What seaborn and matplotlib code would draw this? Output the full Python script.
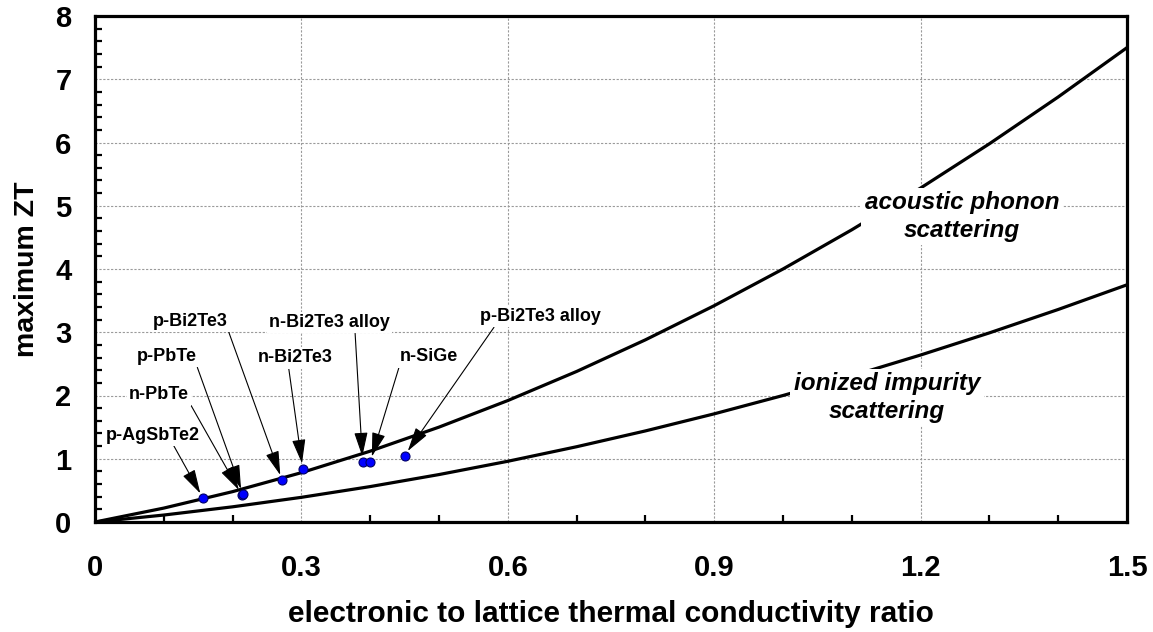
import matplotlib
matplotlib.use("Agg")
import matplotlib.pyplot as plt
import seaborn as sns
import pandas as pd
from matplotlib.ticker import MultipleLocator

# ---- data ----
ratio = [0.0, 0.1, 0.2, 0.3, 0.4, 0.5, 0.6, 0.7, 0.8, 0.9, 1.0, 1.1, 1.2, 1.3, 1.4, 1.5]
zt_acoustic = [0.0, 0.22, 0.48, 0.78, 1.12, 1.50, 1.92, 2.38, 2.88, 3.42, 4.00, 4.62, 5.28, 5.98, 6.72, 7.50]
zt_ionized = [0.0, 0.11, 0.24, 0.39, 0.56, 0.75, 0.96, 1.19, 1.44, 1.71, 2.00, 2.31, 2.64, 2.99, 3.36, 3.75]

materials = ["p-AgSbTe2", "n-PbTe", "p-PbTe", "p-Bi2Te3", "n-Bi2Te3",
             "n-Bi2Te3 alloy", "n-SiGe", "p-Bi2Te3 alloy"]
mat_ratio = [0.157, 0.213, 0.215, 0.272, 0.302, 0.389, 0.400, 0.450]
mat_zt = [0.375, 0.43, 0.44, 0.66, 0.84, 0.95, 0.95, 1.05]

xticks = [0, 0.3, 0.6, 0.9, 1.2, 1.5]
xtick_labels = ["0", "0.3", "0.6", "0.9", "1.2", "1.5"]
yticks = [0, 1, 2, 3, 4, 5, 6, 7, 8]

x_title = "electronic to lattice thermal conductivity ratio"
y_title = "maximum ZT"
curve_labels = ["acoustic phonon\nscattering", "ionized impurity\nscattering"]

# ---- layout (label placement in data units) ----
label_pos = [(0.084, 1.375), (0.093, 2.008), (0.104, 2.613), (0.139, 3.167),
             (0.291, 2.593), (0.341, 3.151), (0.485, 2.609), (0.647, 3.246)]
label_relpos = [(0.71, 0.0), (1.0, 0.1), (1.0, 0.0), (1.0, 0.0),
                (0.41, 0.0), (0.71, 0.0), (0.0, 0.0), (0.15, 0.2)]
curve_label_pos = [(1.26, 4.83), (1.151, 1.968)]

sns.set_theme(style="white")
plt.rcParams["font.family"] = ["Liberation Sans", "DejaVu Sans"]
plt.rcParams["text.color"] = "black"
plt.rcParams["axes.labelcolor"] = "black"
plt.rcParams["xtick.color"] = "black"
plt.rcParams["ytick.color"] = "black"

fig = plt.figure(figsize=(11.53, 6.32), dpi=100)
ax = fig.add_axes([95 / 1153, 1 - 522 / 632, 1032 / 1153, 506 / 632])

df_curves = pd.DataFrame({"x": ratio + ratio,
                          "y": zt_acoustic + zt_ionized,
                          "mech": ["acoustic"] * len(ratio) + ["ionized"] * len(ratio)})
sns.lineplot(data=df_curves, x="x", y="y", units="mech", estimator=None,
             color="black", linewidth=2.3, ax=ax, zorder=3, legend=False)

df_pts = pd.DataFrame({"x": mat_ratio, "y": mat_zt, "m": materials})
sns.scatterplot(data=df_pts, x="x", y="y", color="#0000ff", edgecolor="#000066",
                linewidth=0.8, s=42, ax=ax, zorder=5, legend=False)

for name, px, py, (lx, ly), rp in zip(materials, mat_ratio, mat_zt, label_pos, label_relpos):
    ax.annotate(name, xy=(px, py), xytext=(lx, ly), textcoords="data",
                ha="center", va="center", fontsize=13, fontweight="bold", color="black",
                bbox=dict(boxstyle="square,pad=0.12", fc="white", ec="none"),
                arrowprops=dict(arrowstyle="-|>,head_length=1.5,head_width=0.42",
                                mutation_scale=10, color="black", lw=0.8,
                                shrinkA=0, shrinkB=4, relpos=rp),
                zorder=6)

for txt, (tx, ty) in zip(curve_labels, curve_label_pos):
    ax.text(tx, ty, txt, ha="center", va="center", fontsize=17.5, color="black",
            fontweight="bold", fontstyle="italic", linespacing=1.25,
            bbox=dict(boxstyle="square,pad=0.15", fc="white", ec="none"),
            zorder=4)

ax.set_xlim(0, 1.5)
ax.set_ylim(0, 8)
ax.set_xticks(xticks)
ax.set_xticklabels(xtick_labels)
ax.set_yticks(yticks)
ax.xaxis.set_minor_locator(MultipleLocator(0.1))
ax.yaxis.set_minor_locator(MultipleLocator(0.2))

ax.grid(True, which="major", color="#9a9a9a", linestyle=(0, (2, 1.5)), linewidth=0.8, zorder=0)
ax.set_axisbelow(True)

for sp in ax.spines.values():
    sp.set_visible(True)
    sp.set_color("black")
    sp.set_linewidth(2.3)

ax.tick_params(axis="x", which="major", direction="inout", length=10, width=2,
               pad=18, labelsize=21, colors="black")
ax.tick_params(axis="y", which="major", direction="inout", length=8, width=2,
               pad=13, labelsize=21, colors="black")
ax.tick_params(axis="both", which="minor", direction="in", length=5, width=1.6,
               colors="black", bottom=True, left=True)
ax.tick_params(axis="both", which="both", top=False, right=False)
for lab in ax.get_xticklabels() + ax.get_yticklabels():
    lab.set_fontweight("bold")

ax.set_xlabel(x_title, fontsize=21.5, fontweight="bold", labelpad=13, color="black")
ax.set_ylabel(y_title, fontsize=20.5, fontweight="bold", labelpad=11, color="black")

fig.savefig("out.png", dpi=100, facecolor="white")
